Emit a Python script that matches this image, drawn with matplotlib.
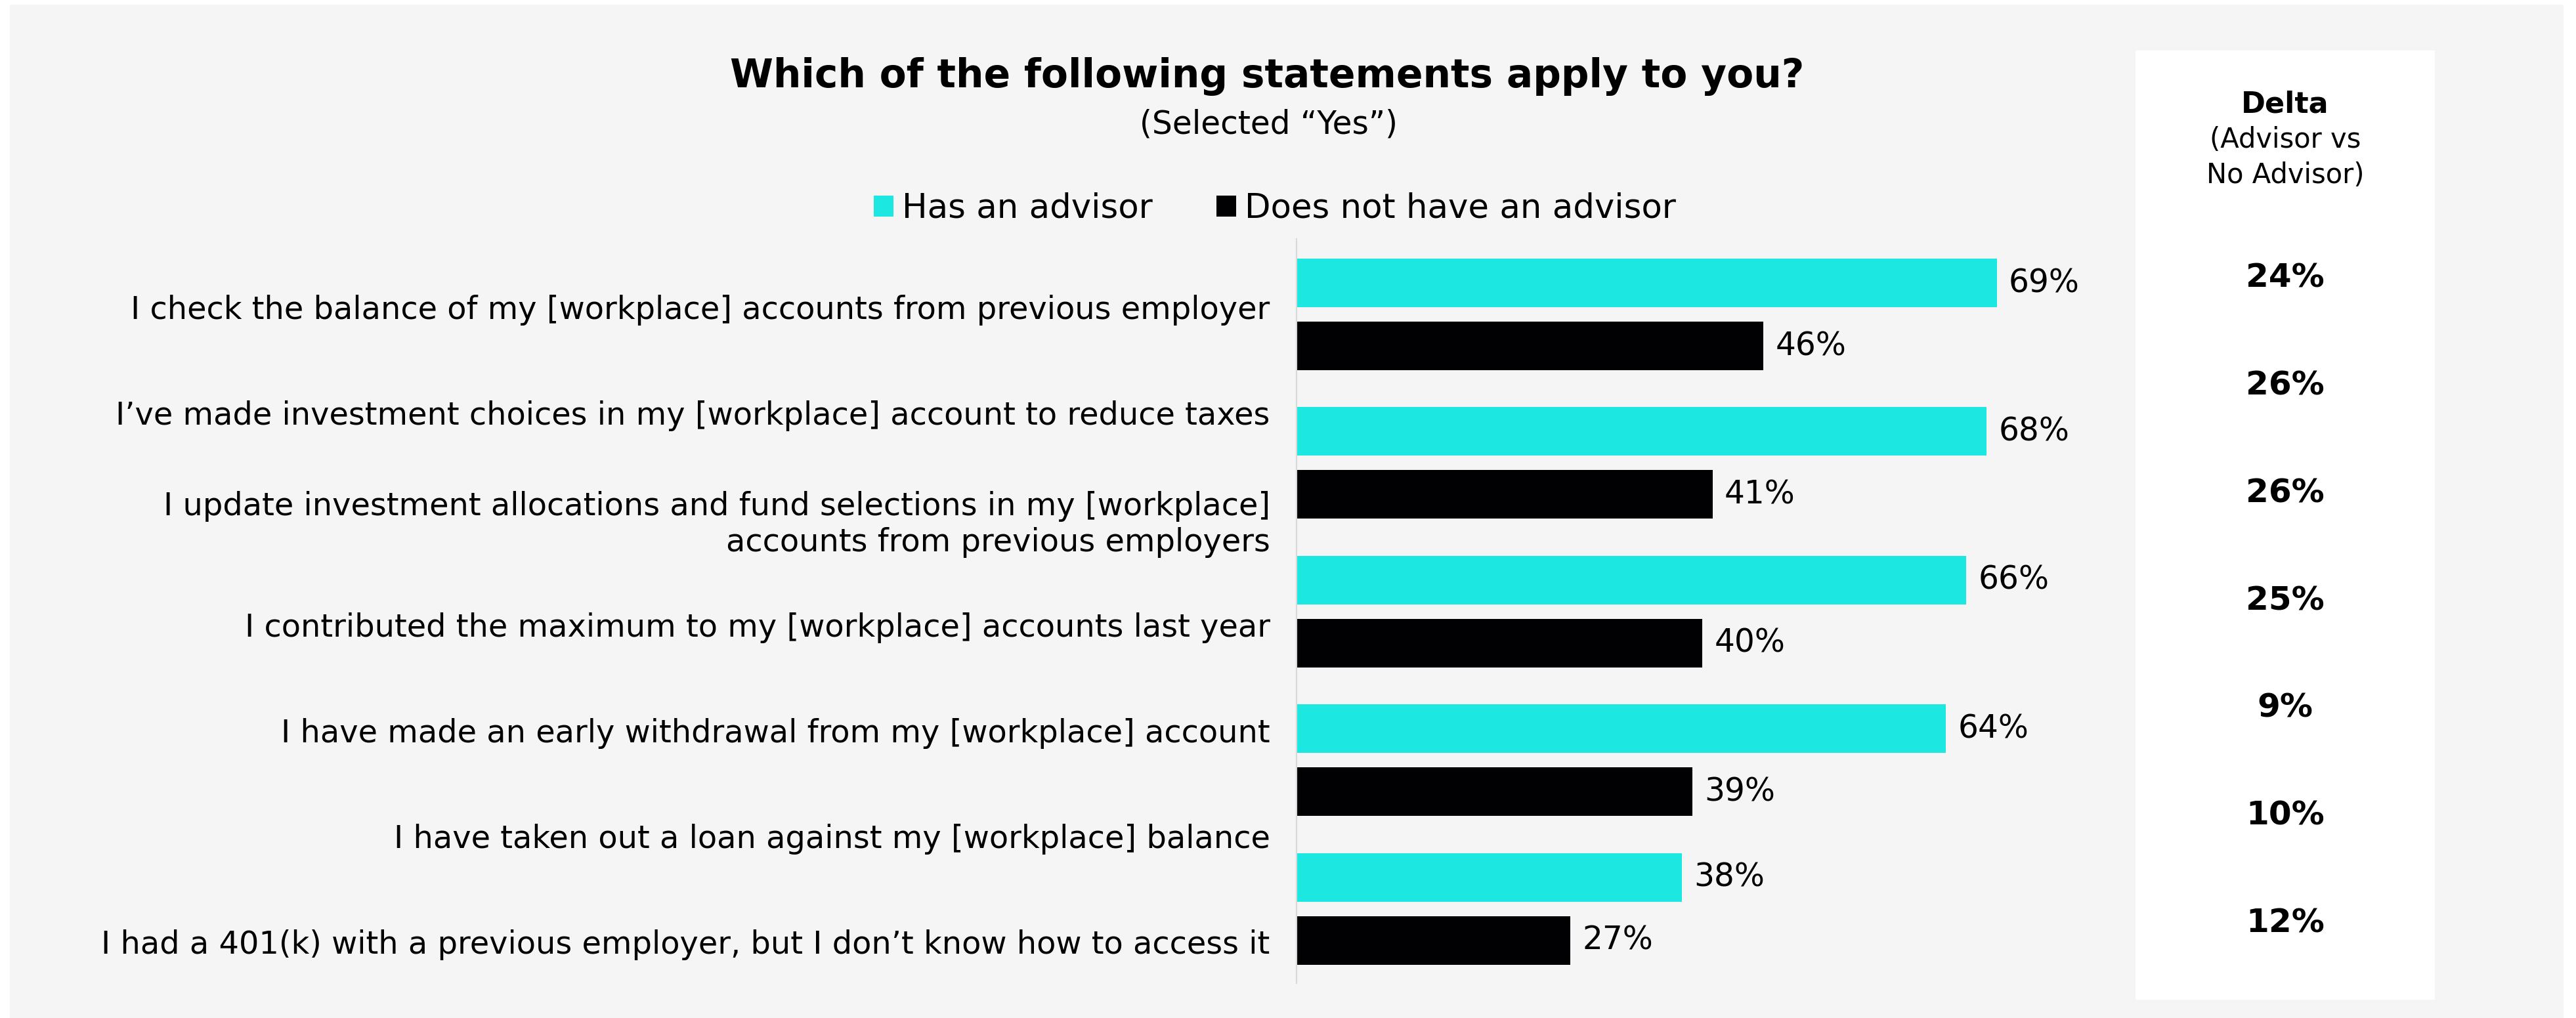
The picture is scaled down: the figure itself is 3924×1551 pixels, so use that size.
import matplotlib
matplotlib.use("Agg")
import matplotlib.pyplot as plt
from matplotlib.patches import Rectangle
import numpy as np

plt.rcParams['font.family'] = ['DejaVu Sans']

# ---- data ----
statements = [
    "I check the balance of my [workplace] accounts from previous employer",
    "I\u2019ve made investment choices in my [workplace] account to reduce taxes",
    "I update investment allocations and fund selections in my [workplace]\naccounts from previous employers",
    "I contributed the maximum to my [workplace] accounts last year",
    "I have made an early withdrawal from my [workplace] account",
    "I have taken out a loan against my [workplace] balance",
    "I had a 401(k) with a previous employer, but I don\u2019t know how to access it",
]
has_advisor = [69, 68, 66, 64, 38]
no_advisor = [46, 41, 40, 39, 27]
deltas = [24, 26, 26, 25, 9, 10, 12]
series_names = ["Has an advisor", "Does not have an advisor"]

CYAN = "#1ce8e1"
BLACK = "#010103"
PANEL = "#f5f5f5"

W, H = 3924, 1551
fig = plt.figure(figsize=(W / 100, H / 100), dpi=100)
fig.patch.set_facecolor("white")

def fx(px):
    return px / W

def fy(py):
    return 1 - py / H

# grey card behind everything
fig.patches.append(Rectangle((fx(15), 0), fx(3905 - 15), fy(7), transform=fig.transFigure,
                             facecolor=PANEL, edgecolor="none", zorder=-2))
# white delta column
fig.patches.append(Rectangle((fx(3253), fy(1523)), fx(3709 - 3253), (1523 - 77) / H,
                             transform=fig.transFigure, facecolor="white",
                             edgecolor="none", zorder=-1))

# ---- bar chart ----
ax_left, ax_right = 1975, 1975 + 1546
ax_top, ax_bot = 364, 1498
ax = fig.add_axes([fx(ax_left), fy(ax_bot), fx(ax_right - ax_left), (ax_bot - ax_top) / H])
ax.set_facecolor("none")

idx = np.arange(len(has_advisor))
off, bh = 0.212, 0.327
b1 = ax.barh(idx - off, has_advisor, height=bh, color=CYAN, label=series_names[0])
b2 = ax.barh(idx + off, no_advisor, height=bh, color=BLACK, label=series_names[1])
for c in (b1, b2):
    ax.bar_label(c, labels=[f"{v}%" for v in c.datavalues], padding=13, fontsize=35,
                 color="black")

ax.set_xlim(0, 100)
ax.set_ylim(4.5, -0.508)
ax.set_yticks(np.linspace(-0.05, 4.22, len(statements)))
ax.set_yticklabels(statements, fontsize=34.5)
for t in ax.get_yticklabels():
    t.set_linespacing(1.22)
ax.tick_params(axis="y", length=0, pad=29)
ax.set_xticks([])
for s in ("top", "right", "bottom"):
    ax.spines[s].set_visible(False)
ax.spines["left"].set_color("#d9d9d9")
ax.spines["left"].set_linewidth(1.5)

# ---- title and legend ----
fig.text(fx(1930), fy(116), "Which of the following statements apply to you?",
         ha="center", va="center", fontsize=43, fontweight="bold")
fig.text(fx(1933), fy(190), "(Selected \u201cYes\u201d)", ha="center", va="center", fontsize=35)

handles, labels = ax.get_legend_handles_labels()
fig.legend(handles, labels, ncol=2, loc="center", bbox_to_anchor=(fx(1942), fy(318)),
           frameon=False, fontsize=37, handlelength=0.58, handleheight=0.58,
           handletextpad=0.25, columnspacing=1.9, borderpad=0)

# ---- delta column ----
px_top, px_bot = 77, 1523
y0, step = 424, 163.7
axd = fig.add_axes([fx(3253), fy(px_bot), fx(3709 - 3253), (px_bot - px_top) / H])
axd.set_axis_off()
axd.set_xlim(0, 1)
axd.set_ylim((px_bot - y0) / step, (px_top - y0) / step)
axd.text(0.5, (159 - y0) / step, "Delta", ha="center", va="center", fontsize=32,
         fontweight="bold")
axd.text(0.5, (213 - y0) / step, "(Advisor vs", ha="center", va="center", fontsize=30)
axd.text(0.5, (267 - y0) / step, "No Advisor)", ha="center", va="center", fontsize=30)
for i, d in enumerate(deltas):
    axd.text(0.5, i, f"{d}%", ha="center", va="center", fontsize=36, fontweight="bold")

fig.savefig("out.png", dpi=100, facecolor=fig.get_facecolor())
